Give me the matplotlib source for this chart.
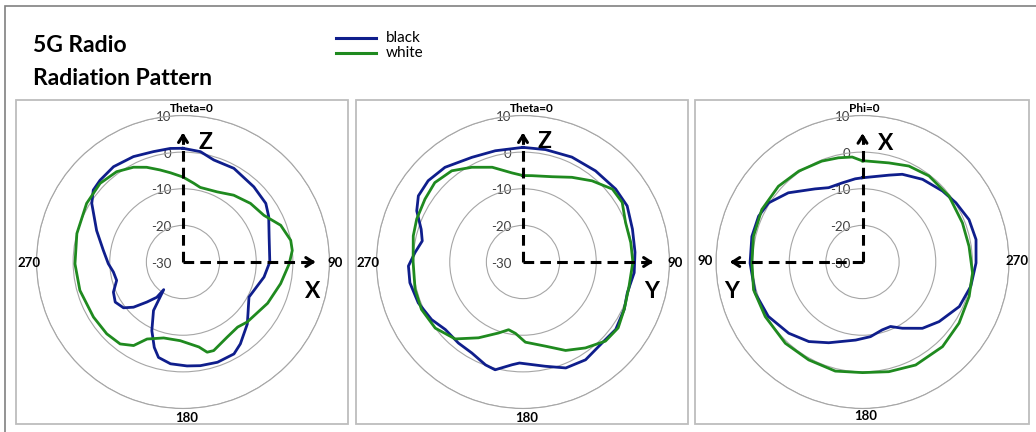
import numpy as np
import matplotlib
matplotlib.use("Agg")
import matplotlib.pyplot as plt
from matplotlib.lines import Line2D
from matplotlib.patches import Rectangle
import matplotlib.transforms as mtransforms

plt.rcParams['font.family'] = ['Lato', 'DejaVu Sans']

# ---------------- data (angle in degrees, gain in dB) ----------------
series_names = ["black", "white"]
radial_ticks = [-30, -20, -10, 0, 10]

# Panel 1 : Theta cut, Z up / X right
p1_black_theta = [0, 9, 16.8, 28.5, 43.3, 54.7, 62, 73.7, 90, 100.5, 118, 128.6, 134, 145, 151,
                  161, 170.5, 177.8, 187, 194.4, 198.6, 204.4, 211.3, 214.9, 216.6, 222, 227.6,
                  232.4, 239.4, 246.6, 254.5, 261.8, 268.7, 278.4, 290, 302.7, 308.7, 314.6,
                  323.9, 334.8, 345, 353.6]
p1_black_r = [1.05, 0.5, -0.9, -0.9, -1.8, -2.3, -3.5, -5.5, -6.3, -7.5, -9.6, -7.3, -5.6, -2.7, -1.3,
              -1.05, -1.3, -1.6, -2.0, -3.1, -5.4, -9.4, -14.5, -20.8, -18.0, -15.3, -11.7,
              -9.5, -8.5, -9.3, -11.2, -10.8, -9.6, -8.0, -4.9, -0.4, 1.4, 1.8,
              2.2, 1.8, 1.2, 1.2]
p1_white_theta = [0, 7.8, 13, 26, 37.2, 49, 60, 69.4, 78.6, 84, 91, 102.5, 116, 133, 140, 149.6,
                  160.9, 165, 169.4, 182, 194.3, 205, 210.6, 217.5, 226.7, 238.4, 254.6, 269,
                  285, 301.3, 313.5, 323.7, 332.4, 339, 346, 352]
p1_white_r = [-6.8, -8.3, -9.1, -8.7, -7.1, -5.6, -4.5, -1.5, 0.0, 0.0, -1.0, -2.7, -4.3, -6.0, -6.8, -6.2,
              -4.4, -4.5, -6.4, -8.5, -8.6, -6.8, -3.5, -1.8, -1.4, -1.3, -0.8, -0.5,
              0.0, 0.8, 1.2, 0.6, -0.8, -2.3, -4.1, -5.4]

# Panel 2 : Theta cut, Z up / Y right
p2_black_theta = [0, 11.3, 25, 38.5, 51.8, 61.7, 73.3, 85, 95.5, 106.4, 115, 126, 135.6, 147.4, 158,
                  168, 182, 186, 194.5, 200, 209.4, 218.6, 229, 237.8, 248.7, 259.6, 268, 275,
                  281.8, 287.8, 295.7, 302.3, 310.6, 320.5, 334, 346]
p2_black_r = [1.3, 1.3, 1.6, 1.8, 2.2, 2.3, 1.2, 0.7, 0.5, -0.3, 0.5, 1.3, 0.9, 1.7, 1.2,
              -0.9, -2.4, -1.8, 0.4, -0.1, -1.5, -1.7, -1.9, -0.5, 0.7, 1.4, 1.3, -0.4,
              -1.9, -0.8, 2.2, 3.8, 4.1, 3.5, 1.8, 1.3]
p2_white_theta = [0, 6, 18.8, 30, 40.4, 50.8, 59, 69, 79.8, 90, 102.8, 115, 124.7, 133.8, 144, 154.3,
                  165, 178.3, 186, 192, 199, 210.4, 221.4, 233, 245, 255.8, 270, 283.4, 292,
                  302.7, 312, 322, 331.6, 342, 353]
p2_white_r = [-6.4, -6.3, -5.4, -3.3, -0.9, 1.5, 1.6, 0.0, -0.1, 0.0, -0.3, 0.5, 1.6, 1.2, -1.0, -3.2,
              -6.2, -8.1, -10.4, -11.1, -9.5, -6.0, -2.0, 0.0, 0.6, 0.4, 0.0, 0.8, 1.3,
              1.8, 2.4, 1.6, -0.6, -2.8, -5.5]

# Panel 3 : Phi cut, X up / Y left
p3_black_phi = [0, 5, 14.4, 24.5, 33, 47, 57.8, 66.2, 77, 90.5, 106.2, 120, 134, 146, 157.3, 175,
                186.1, 196.2, 203.5, 211, 222.1, 232.1, 245.3, 257.3, 269.5, 281.2, 291.7, 302.4,
                311.6, 324, 335.6, 343]
p3_black_r = [-7.0, -7.2, -7.7, -7.7, -6.2, -2.3, 0.3, 1.0, 1.0, 0.7, 0.5, -0.3, -2.0, -3.8, -6.1, -8.6,
              -9.5, -10.7, -10.8, -8.9, -5.6, -3.5, -0.9, 0.3, 1.0, 1.6, 1.3, 0.2,
              -0.8, -2.1, -3.7, -5.2]
p3_white_phi = [0, 5.6, 13, 22, 35, 48, 62.5, 76.7, 90.5, 104.3, 119.3, 136.5, 151.2, 166, 180, 193.5,
                207.3, 223.4, 237.7, 252.1, 264.3, 278.4, 291.4, 307.3, 322.3, 334.2, 345.1, 358]
p3_white_r = [-2.4, -1.2, -0.8, -0.3, 0.3, 0.9, 1.0, 0.6, 0.2, 0.7, 0.45, 0.6, 0.5, 0.7, 0.2, 0.8,
              1.65, 1.8, 1.2, 0.6, 0.2, -0.6, -0.7, -0.3, -0.3, -0.9, -2.0, -2.4]

panel_titles = ["Theta=0", "Theta=0", "Phi=0"]
angle_labels = ["90", "180", "270"]
axis_letters = [("Z", "X"), ("Z", "Y"), ("X", "Y")]

# ---------------- layout ----------------
W, H = 1036, 432
fig = plt.figure(figsize=(W / 100, H / 100), dpi=100)
fig.patch.set_facecolor('white')

def fx(x):
    return x / W

def fy(y):
    return 1 - y / H

BLUE = '#0f1e8c'
GREEN = '#1f8a1f'
GRID = '#a6a6a6'

# outer frame
fig.add_artist(Rectangle((fx(5), fy(445)), fx(1045) - fx(5), fy(6) - fy(445), transform=fig.transFigure,
                         fill=False, edgecolor='#808080', lw=1.2))
# panel boxes
for (x0, x1) in [(15.7, 348), (355.5, 688), (695, 1029)]:
    fig.add_artist(Rectangle((fx(x0), fy(424)), fx(x1) - fx(x0), fy(100) - fy(424),
                             transform=fig.transFigure, fill=False, edgecolor='#bdbdbd', lw=1.3))

# title
fig.text(fx(33), fy(51.7), "5G Radio", fontsize=16.5, fontweight='bold', va='baseline', ha='left')
fig.text(fx(33), fy(85), "Radiation Pattern", fontsize=16.5, fontweight='bold', va='baseline', ha='left')

# legend (manual)
for yy, col, name in [(37.7, BLUE, series_names[0]), (52.7, GREEN, series_names[1])]:
    fig.add_artist(Line2D([fx(336), fx(376)], [fy(yy), fy(yy)], color=col, lw=2.2,
                          transform=fig.transFigure))
    fig.text(fx(386), fy(yy), name, fontsize=11, va='center', ha='left')

R = 146.5
centers = [(183, 262), (523, 262), (862.5, 262)]
data = [
    (p1_black_theta, p1_black_r, p1_white_theta, p1_white_r),
    (p2_black_theta, p2_black_r, p2_white_theta, p2_white_r),
    (p3_black_phi, p3_black_r, p3_white_phi, p3_white_r),
]
directions = [-1, -1, 1]
arrow_tips = [(5.3, 6.2), (5.3, 5.6), (5.1, 6.2)]

title_pos = [(191.7, 109), (532, 109), (864.7, 109)]
lbl_pos = [
    {"90": (335, 263), "180": (187, 418), "270": (29, 263)},
    {"90": (675, 263), "180": (526.5, 418), "270": (368, 263)},
    {"90": (705, 261), "180": (866, 416), "270": (1017, 261)},
]
letter_pos = [
    ((205.7, 142.3), (312.7, 291.7)),
    ((544.3, 141.7), (651.7, 291.7)),
    ((885.7, 143.3), (731.3, 291.7)),
]

for i, (cx, cy) in enumerate(centers):
    ax = fig.add_axes([fx(cx - R), fy(cy + R), 2 * R / W, 2 * R / H], projection='polar')
    ax.set_theta_zero_location('N')
    ax.set_theta_direction(directions[i])
    ax.set_rlim(-30, 10)
    ax.set_rticks(radial_ticks[1:])
    ax.set_yticklabels([])
    ax.set_xticks([])
    ax.xaxis.grid(False)
    ax.yaxis.grid(True, color=GRID, lw=0.8)
    ax.spines['polar'].set_color(GRID)
    ax.spines['polar'].set_linewidth(0.8)
    ax.set_facecolor('none')

    # radial labels
    offs = mtransforms.ScaledTranslation(-12 / 100, -1.5 / 100, fig.dpi_scale_trans)
    for rv in radial_ticks:
        ax.text(0, rv, str(rv), transform=ax.transData + offs, ha='right', va='center',
                fontsize=9.5, color='#404040', zorder=1)

    bt, br, wt, wr = data[i]
    bt = np.deg2rad(np.array(bt + [bt[0] + 360]))
    br = np.array(br + [br[0]])
    wt = np.deg2rad(np.array(wt + [wt[0] + 360]))
    wr = np.array(wr + [wr[0]])
    ax.plot(bt, br, color=BLUE, lw=2.0, zorder=3, solid_joinstyle='round')
    ax.plot(wt, wr, color=GREEN, lw=2.0, zorder=3, solid_joinstyle='round')

    # axis arrows
    tv, th = arrow_tips[i]
    for ang, tip in [(0.0, tv), (np.pi / 2, th)]:
        ax.plot([ang, ang], [-30, tip - 0.6], color='black', lw=2.2, ls=(0, (3.5, 2)),
                zorder=5, dash_capstyle='butt')
        ax.annotate('', xy=(ang, tip), xytext=(ang, tip - 1.5),
                    arrowprops=dict(arrowstyle='->,head_length=0.5,head_width=0.32', lw=2.2,
                                    color='black', shrinkA=0, shrinkB=0), zorder=6)

    # titles & angle labels
    tx, ty = title_pos[i]
    fig.text(fx(tx), fy(ty), panel_titles[i], fontsize=8.5, fontweight='bold', ha='center', va='center')
    for lab in angle_labels:
        px, py = lbl_pos[i][lab]
        fig.text(fx(px), fy(py), lab, fontsize=9.5, fontweight='bold', ha='center', va='center')
    (l1, l2) = axis_letters[i]
    (a, b) = letter_pos[i]
    fig.text(fx(a[0]), fy(a[1]), l1, fontsize=16.5, fontweight='bold', ha='center', va='center')
    fig.text(fx(b[0]), fy(b[1]), l2, fontsize=16.5, fontweight='bold', ha='center', va='center')

fig.savefig("out.png", dpi=100, facecolor='white')
